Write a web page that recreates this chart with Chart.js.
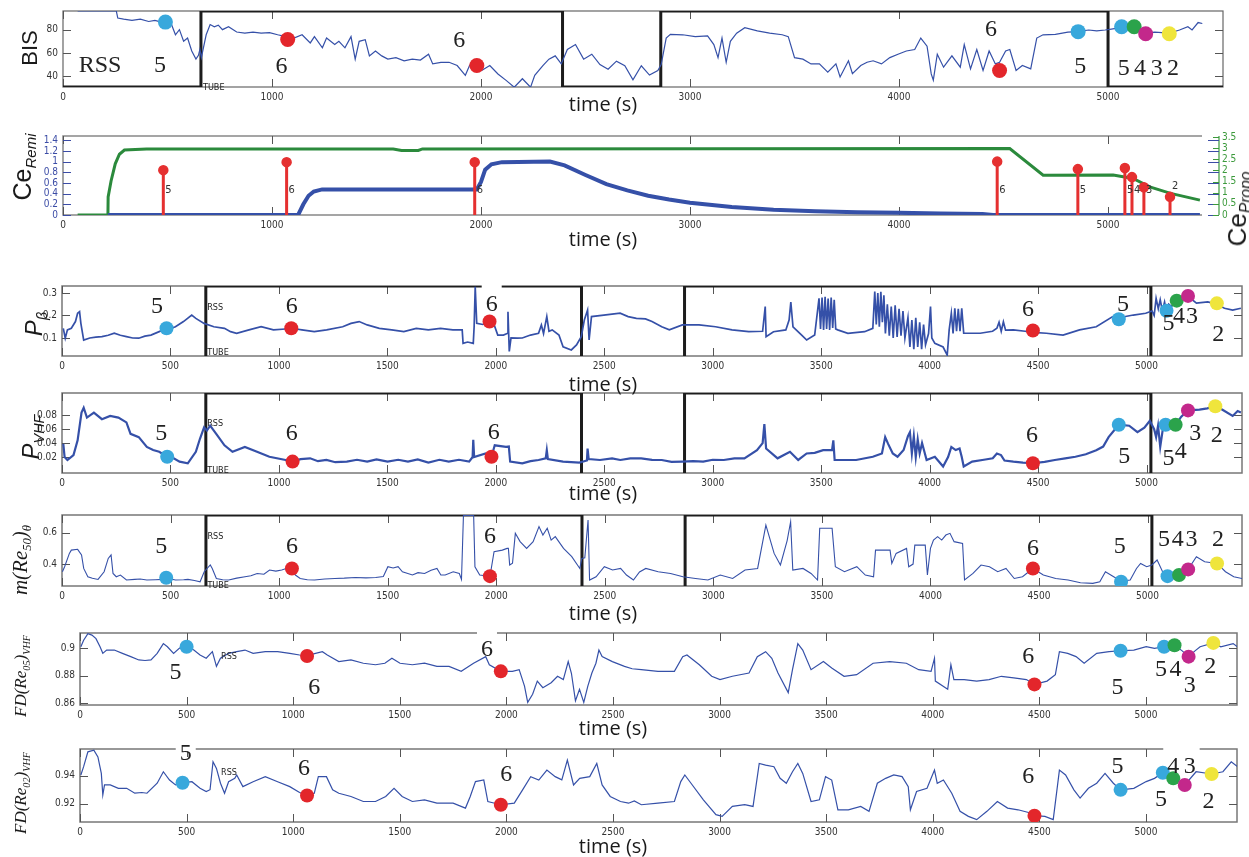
<!DOCTYPE html>
<html>
<head>
<meta charset="utf-8">
<script src="https://cdn.jsdelivr.net/npm/chart.js@4.4.0/dist/chart.umd.min.js"></script>
<style>
body { margin: 0; background: #fff; }
#fig { position: relative; width: 1249px; height: 857px; overflow: hidden; background: #fff; }
canvas { position: absolute; left: 0; }
.yl, .xl { position: absolute; white-space: nowrap; color: #1a1a1a; line-height: 1; }
.xl { font: 20px 'Open Sans', sans-serif; transform: translate(-50%, -50%); }
.yl { transform: translate(-50%, -50%) rotate(-90deg); }
.yl sub { font-size: 60%; vertical-align: -0.35em; }
.sans { font-family: 'Liberation Sans', Arial, sans-serif; }
.serif { font-family: 'Liberation Serif', 'Times New Roman', serif; font-style: italic; }
</style>
</head>
<body>
<div id="fig">
  <canvas id="cBis" width="1249" height="107" style="top:0px"></canvas>
  <canvas id="cCe" width="1249" height="117" style="top:118px"></canvas>
  <canvas id="cPb" width="1249" height="108" style="top:268px"></canvas>
  <canvas id="cPv" width="1249" height="116" style="top:377px"></canvas>
  <canvas id="cRe" width="1249" height="109" style="top:497px"></canvas>
  <canvas id="cF5" width="1249" height="110" style="top:615px"></canvas>
  <canvas id="cF2" width="1249" height="111" style="top:731px"></canvas>

  <div class="yl sans" style="left:30px;top:48px;font-size:22px">BIS</div>
  <div class="yl sans" style="left:24px;top:167px;font-size:25px">Ce<sub><i>Remi</i></sub></div>
  <div class="yl sans" style="left:1239px;top:209px;font-size:26px">Ce<sub><i>Propo</i></sub></div>
  <div class="yl sans" style="left:36px;top:324px;font-size:24px"><i>P</i><sub><i>β</i></sub></div>
  <div class="yl sans" style="left:33px;top:437px;font-size:24px"><i>P</i><sub><i>VHF</i></sub></div>
  <div class="yl serif" style="left:22px;top:560px;font-size:21px">m(Re<sub>50</sub>)<sub>θ</sub></div>
  <div class="yl serif" style="left:22px;top:676px;font-size:17px">FD(Re<sub>05</sub>)<sub>VHF</sub></div>
  <div class="yl serif" style="left:22px;top:793px;font-size:17px">FD(Re<sub>02</sub>)<sub>VHF</sub></div>

  <div class="xl" style="left:603px;top:103px">time (s)</div>
  <div class="xl" style="left:603px;top:238px">time (s)</div>
  <div class="xl" style="left:603px;top:383px">time (s)</div>
  <div class="xl" style="left:603px;top:492px">time (s)</div>
  <div class="xl" style="left:603px;top:612px">time (s)</div>
  <div class="xl" style="left:613px;top:727px">time (s)</div>
  <div class="xl" style="left:613px;top:845px">time (s)</div>
</div>

<script>
// ---- data (time in s, value) ----
const bisData = [[70,96],[255,96],[262,90],[290,89],[330,88],[370,89],[410,87],[440,88],[470,86.5],[500,86],
  [520,84],[538,75.6],[557,80],[577,70],[596,72.8],[616,61.7],[636,54.7],[648,58],[655,63],[662,56],
  [685,75.6],[704,84.4],[724,82.5],[743,83.9],[763,80],[792,82.5],[831,78],[870,77],[909,77.8],[948,77],
  [988,77.5],[1027,75.6],[1066,74],[1105,72.8],[1144,75.6],[1183,68.6],[1203,74],[1241,64.4],[1261,72.8],[1300,67.2],
  [1320,70],[1349,64.4],[1378,74],[1398,54.7],[1417,70],[1446,71.4],[1466,57.5],[1495,61.7],[1525,57.5],[1554,54.7],
  [1593,56],[1632,53.3],[1671,54.7],[1710,53.9],[1749,58.9],[1769,50.6],[1808,52],[1847,52],[1886,49.2],[1925,40.8],
  [1945,49.2],[1964,53.3],[2003,45],[2042,49.2],[2081,42],[2120,36.5],[2159,30.6],[2198,37.9],[2237,30.6],[2257,40.8],
  [2296,49.2],[2325,54.7],[2355,57.5],[2384,50.6],[2413,63],[2452,67.2],[2491,54.7],[2530,58.9],[2569,50],[2608,46],
  [2648,53],[2688,49],[2727,37],[2767,49],[2806,41],[2846,45],[2862,50],[2886,72.8],[2906,76],[2965,75.6],
  [3025,74],[3084,74.7],[3114,67.2],[3134,56],[3153,72.8],[3173,52],[3193,70],[3223,77],[3262,81.7],[3322,78.9],
  [3381,77],[3441,75.6],[3470,74],[3500,56],[3540,54.7],[3579,50.6],[3619,50.6],[3659,43.6],[3698,50.6],[3718,39.4],
  [3758,53.3],[3777,42.2],[3817,49.2],[3847,52],[3876,53.3],[3916,50.6],[3956,56],[3995,58.9],[4035,61.7],[4075,63],
  [4104,72.8],[4134,65.8],[4154,42],[4164,36.7],[4183,58.9],[4213,47.8],[4253,57.5],[4293,47.8],[4312,67.2],[4342,46.4],
  [4372,63],[4402,45],[4431,61.7],[4461,50.6],[4481,52],[4510,61.7],[4530,63],[4560,45],[4590,49.2],[4630,46.4],
  [4659,72.8],[4689,75.6],[4748,76],[4808,77.8],[4857,78.3],[4907,79.7],[4946,78.9],[4986,79.7],[5016,80.5],[5065,82],
  [5125,81],[5180,77],[5223,77.8],[5293,77],[5342,79.7],[5382,82.5],[5402,79.7],[5431,86.1],[5451,85.3]];

// effect-site concentrations
const propoData = [[70,0],[215,0],[216,0.81],[230,1.53],[250,2.3],[270,2.73],[294,2.92],[400,2.97],[1580,2.97],[1620,2.9],
  [1700,2.9],[1720,2.97],[4530,2.99],[4690,1.79],[5025,1.8],[5120,1.64],[5200,1.26],[5300,0.97],[5440,0.67]];
const remiData = [[215,0],[1125,0],[1150,0.2],[1175,0.36],[1200,0.44],[1240,0.48],[1980,0.48],[2000,0.62],[2020,0.85],[2050,0.95],
  [2100,0.99],[2330,1.0],[2400,0.93],[2500,0.75],[2600,0.58],[2700,0.46],[2800,0.36],[2900,0.29],[3000,0.23],[3200,0.15],
  [3400,0.1],[3600,0.07],[3800,0.05],[4000,0.04],[4200,0.03],[4400,0.02],[4450,0],[5440,0]];
const stemT = [480, 1070, 1970, 4470, 4856, 5081, 5115, 5172, 5297];
const stemH = [0.84, 0.99, 0.99, 1.0, 0.86, 0.88, 0.71, 0.52, 0.34];
const stemLab = ['5', '6', '6', '6', '5', '5', '4', '3', '2'];
const stemLabV = [0.47, 0.47, 0.47, 0.47, 0.47, 0.47, 0.47, 0.47, 0.55];

const pbData = [[6,.143],[15,.099],[25,.136],[43,.143],[62,.173],[72,.21],[81,.217],[87,.165],[100,.091],[128,.1],
  [156,.104],[184,.106],[213,.112],[241,.121],[269,.112],[297,.106],[326,.1],[354,.099],[382,.108],[410,.113],
  [440,.125],[467,.136],[495,.14],[523,.15],[560,.173],[598,.202],[617,.187],[655,.165],[700,.15],[749,.143],
  [777,.128],[805,.121],[862,.136],[918,.15],[975,.136],[1030,.14],[1080,.14],[1106,.136],[1163,.128],[1220,.136],
  [1294,.15],[1332,.165],[1370,.173],[1407,.158],[1463,.143],[1520,.136],[1576,.128],[1633,.143],[1689,.136],[1745,.143],
  [1802,.136],[1845,.136],[1849,.076],[1870,.082],[1896,.076],[1900,.15],[1905,.328],[1912,.165],[1940,.16],[1971,.173],
  [1990,.165],[2009,.113],[2035,.113],[2052,.12],[2056,.217],[2062,.04],[2070,.1],[2100,.099],[2122,.1],[2160,.113],
  [2197,.121],[2210,.158],[2220,.12],[2235,.195],[2245,.13],[2260,.136],[2291,.113],[2310,.061],[2348,.047],[2372,.069],
  [2394,.106],[2408,.18],[2423,.224],[2430,.091],[2441,.195],[2498,.202],[2573,.21],[2610,.195],[2648,.187],[2690,.185],
  [2720,.173],[2765,.15],[2800,.136],[2860,.158],[2937,.158],[3013,.15],[3089,.136],[3166,.128],[3230,.13],[3242,.24],
  [3246,.106],[3280,.128],[3337,.136],[3352,.18],[3360,.26],[3370,.15],[3410,.113],[3433,.091],[3470,.113],[3490,.276],
  [3497,.14],[3504,.28],[3511,.136],[3518,.283],[3525,.14],[3532,.275],[3539,.136],[3546,.28],[3553,.145],[3560,.27],
  [3567,.14],[3576,.136],[3623,.121],[3700,.128],[3738,.143],[3747,.306],[3754,.16],[3761,.3],[3768,.15],[3775,.305],
  [3782,.17],[3789,.29],[3796,.12],[3805,.25],[3814,.11],[3823,.24],[3832,.1],[3841,.245],[3850,.105],[3859,.23],
  [3868,.11],[3877,.22],[3886,.1],[3900,.19],[3909,.06],[3918,.18],[3927,.05],[3936,.19],[3945,.06],[3954,.17],
  [3963,.05],[3972,.16],[3981,.07],[3995,.12],[4004,.24],[4010,.1],[4024,.076],[4062,.06],[4081,.024],[4090,.136],
  [4100,.21],[4108,.12],[4116,.232],[4124,.13],[4132,.23],[4140,.13],[4148,.232],[4157,.121],[4233,.121],[4290,.13],
  [4310,.143],[4320,.17],[4330,.13],[4340,.172],[4350,.135],[4386,.136],[4440,.13],[4476,.125],[4538,.121],[4615,.113],
  [4691,.136],[4768,.15],[4844,.195],[4872,.19],[4939,.202],[4996,.21],[5025,.22],[5035,.2],[5044,.276],[5054,.23],
  [5063,.27],[5073,.22],[5083,.26],[5092,.215],[5102,.25],[5115,.24],[5139,.26],[5191,.285],[5230,.255],[5282,.26],
  [5324,.25],[5359,.232],[5397,.224],[5435,.232]];

const pvData = [[6,.039],[12,.02],[25,.0157],[53,.0228],[72,.0439],[90,.0838],[100,.0908],[115,.0767],[147,.0838],[184,.0744],
  [222,.079],[260,.0767],[297,.0697],[316,.0533],[354,.0486],[391,.0345],[420,.03],[448,.0275],[485,.0204],[515,.018],
  [542,.0134],[580,.011],[617,.0275],[636,.0462],[655,.0626],[668,.058],[683,.065],[711,.0533],[749,.0368],[786,.0275],
  [843,.0345],[899,.0275],[956,.0204],[1031,.0157],[1063,.0134],[1100,.017],[1144,.0181],[1180,.014],[1219,.0157],[1260,.0125],
  [1313,.0134],[1360,.016],[1407,.0134],[1450,.0165],[1501,.0134],[1550,.016],[1595,.0134],[1640,.0165],[1689,.012],[1740,.016],
  [1783,.0134],[1830,.016],[1877,.0134],[1893,.02],[1896,.0448],[1900,.02],[1953,.025],[1980,.0204],[1995,.0368],[2047,.0345],
  [2060,.035],[2066,.0134],[2122,.011],[2160,.014],[2197,.0157],[2230,.018],[2235,.0298],[2240,.017],[2310,.0134],[2385,.012],
  [2420,.015],[2423,.032],[2428,.017],[2480,.0157],[2536,.018],[2574,.0157],[2620,.018],[2670,.0181],[2720,.016],[2765,.0157],
  [2810,.013],[2860,.0134],[2910,.014],[2956,.0134],[3000,.016],[3051,.0157],[3100,.018],[3146,.0181],[3204,.0298],[3230,.04],
  [3238,.0673],[3246,.0322],[3299,.0181],[3356,.0275],[3394,.0157],[3433,.0251],[3470,.026],[3509,.0298],[3550,.03],[3556,.0439],
  [3562,.0157],[3661,.0157],[3738,.0204],[3780,.025],[3795,.0486],[3808,.0392],[3830,.025],[3852,.0204],[3880,.03],[3900,.05],
  [3909,.0556],[3918,.025],[3927,.05],[3936,.02],[3945,.045],[3954,.025],[3965,.04],[3986,.0157],[4024,.0204],[4062,.0064],
  [4085,.02],[4100,.0345],[4120,.03],[4138,.0322],[4148,.02],[4157,.0064],[4196,.0134],[4250,.016],[4291,.0181],[4310,.025],
  [4329,.0228],[4345,.015],[4386,.0134],[4430,.012],[4476,.011],[4530,.013],[4577,.0157],[4625,.018],[4672,.0204],[4720,.024],
  [4768,.0298],[4800,.035],[4825,.0486],[4872,.0664],[4920,.065],[4958,.0556],[4990,.062],[5015,.072],[5035,.06],[5044,.0486],
  [5053,.065],[5063,.0345],[5075,.06],[5088,.0664],[5110,.065],[5134,.0664],[5160,.078],[5191,.087],[5244,.088],[5280,.09],
  [5317,.093],[5350,.088],[5397,.079],[5420,.086],[5435,.084]];

const reData = [[2,.351],[12,.383],[34,.468],[43,.489],[72,.494],[90,.458],[100,.372],[119,.319],[140,.31],[166,.302],
  [194,.351],[213,.436],[226,.458],[235,.34],[250,.319],[269,.33],[297,.298],[335,.302],[360,.305],[391,.298],
  [430,.3],[467,.302],[480,.31],[523,.298],[560,.3],[580,.302],[610,.295],[636,.287],[655,.351],[683,.394],
  [692,.372],[711,.308],[740,.3],[768,.298],[805,.31],[843,.319],[870,.325],[899,.34],[930,.335],[956,.362],
  [985,.355],[1012,.362],[1040,.375],[1059,.372],[1075,.33],[1097,.308],[1130,.3],[1163,.298],[1210,.305],[1257,.308],
  [1300,.31],[1351,.314],[1400,.312],[1445,.314],[1480,.32],[1501,.383],[1525,.375],[1548,.383],[1568,.351],[1614,.33],
  [1640,.345],[1670,.34],[1700,.36],[1727,.372],[1745,.33],[1765,.33],[1802,.351],[1830,.34],[1840,.302],[1849,.71],
  [1896,.71],[1902,.383],[1924,.33],[1950,.325],[1971,.32],[1990,.479],[2028,.489],[2050,.5],[2056,.5],[2062,.394],
  [2075,.405],[2088,.596],[2110,.543],[2140,.5],[2170,.543],[2197,.639],[2215,.585],[2235,.628],[2253,.553],[2272,.575],
  [2310,.5],[2348,.447],[2385,.372],[2394,.436],[2408,.44],[2423,.681],[2430,.298],[2460,.319],[2498,.383],[2536,.362],
  [2573,.372],[2600,.33],[2632,.298],[2660,.35],[2689,.372],[2746,.351],[2803,.34],[2860,.319],[2918,.308],[2975,.298],
  [3032,.33],[3089,.308],[3146,.362],[3204,.372],[3242,.649],[3280,.468],[3309,.394],[3340,.55],[3356,.67],[3366,.362],
  [3413,.372],[3450,.34],[3480,.298],[3490,.628],[3547,.628],[3562,.383],[3604,.351],[3661,.383],[3700,.33],[3738,.319],
  [3747,.489],[3814,.489],[3822,.404],[3842,.468],[3890,.5],[3900,.383],[3920,.4],[3928,.521],[3976,.521],[3986,.33],
  [4000,.5],[4014,.553],[4033,.575],[4052,.553],[4071,.585],[4090,.596],[4109,.543],[4148,.532],[4157,.298],[4196,.34],
  [4233,.394],[4272,.383],[4310,.351],[4348,.372],[4386,.308],[4424,.319],[4472,.372],[4520,.33],[4577,.308],[4634,.298],
  [4691,.281],[4748,.277],[4780,.287],[4806,.351],[4844,.319],[4878,.29],[4920,.298],[4949,.372],[4968,.404],[4996,.383],
  [5020,.394],[5044,.426],[5073,.34],[5092,.32],[5145,.33],[5187,.366],[5225,.447],[5263,.415],[5320,.404],[5359,.351],
  [5397,.319],[5435,.308]];

const fd05Data = [[4,.901],[17,.9057],[37,.9105],[56,.9095],[75,.9069],[94,.901],[107,.8962],[125,.8986],[161,.8986],[199,.8962],
  [238,.8938],[276,.8914],[305,.891],[333,.8914],[362,.8962],[391,.9033],[410,.901],[439,.8962],[467,.9],[500,.901],
  [534,.8986],[563,.895],[592,.8926],[621,.8974],[640,.8867],[659,.8926],[697,.8962],[735,.8974],[774,.8986],[812,.8962],
  [869,.8974],[927,.8974],[984,.8962],[1030,.895],[1065,.8943],[1100,.896],[1137,.8974],[1160,.895],[1214,.8902],[1271,.8914],
  [1329,.889],[1386,.8879],[1430,.889],[1463,.8926],[1501,.889],[1559,.8879],[1616,.889],[1674,.8867],[1731,.8867],[1788,.8831],
  [1846,.889],[1903,.8938],[1920,.8879],[1974,.8831],[2028,.8831],[2060,.8843],[2085,.8724],[2100,.8605],[2123,.8664],[2145,.876],
  [2171,.8712],[2210,.8748],[2240,.8795],[2267,.8771],[2290,.8902],[2305,.8817],[2324,.8617],[2343,.87],[2363,.8605],[2382,.8724],
  [2401,.8819],[2420,.889],[2434,.8986],[2449,.8938],[2497,.8902],[2554,.8867],[2590,.885],[2633,.8843],[2711,.8831],[2788,.8831],
  [2827,.8938],[2847,.895],[2905,.8879],[2963,.8795],[3002,.8771],[3060,.8795],[3138,.8819],[3177,.8938],[3216,.8974],[3245,.8926],
  [3274,.8819],[3322,.8676],[3342,.8843],[3367,.9033],[3390,.8986],[3429,.8843],[3487,.8902],[3526,.8855],[3584,.8795],[3643,.8807],
  [3720,.889],[3798,.8902],[3876,.889],[3934,.8843],[3992,.8831],[4008,.8926],[4012,.876],[4070,.87],[4085,.8879],[4099,.8771],
  [4147,.8771],[4206,.876],[4264,.8771],[4322,.8795],[4380,.8783],[4439,.8771],[4477,.8736],[4536,.876],[4575,.8807],[4594,.8974],
  [4633,.8962],[4672,.8938],[4710,.889],[4769,.8962],[4827,.8974],[4881,.8981],[4943,.8986],[5001,.901],[5040,.8998],[5085,.901],
  [5134,.9021],[5170,.898],[5200,.8938],[5230,.898],[5254,.901],[5316,.9038],[5351,.901],[5409,.9033],[5429,.901]];

const fd02Data = [[4,.9405],[17,.9464],[37,.957],[65,.9581],[84,.9534],[100,.9416],[107,.9263],[115,.9334],[142,.9334],[180,.931],
  [219,.931],[257,.9275],[290,.928],[314,.9275],[362,.9346],[391,.9428],[420,.9369],[448,.9334],[481,.935],[525,.9357],
  [563,.931],[592,.9287],[610,.93],[624,.9499],[640,.9452],[659,.9346],[678,.9275],[697,.9357],[726,.9381],[735,.9405],
  [764,.9322],[812,.9357],[869,.9393],[927,.9357],[984,.9322],[1030,.928],[1065,.9259],[1099,.9275],[1118,.9393],[1156,.9393],
  [1185,.9299],[1214,.9275],[1271,.9252],[1329,.9216],[1386,.9216],[1434,.9252],[1473,.931],[1511,.9252],[1559,.9216],[1616,.9228],
  [1674,.9204],[1750,.9204],[1808,.9169],[1830,.925],[1855,.9358],[1894,.9369],[1913,.9216],[1974,.9193],[2037,.9204],[2076,.9299],
  [2114,.9393],[2152,.9369],[2190,.944],[2229,.9393],[2260,.937],[2286,.9511],[2315,.9334],[2344,.9381],[2391,.9393],[2424,.9487],
  [2449,.9334],[2487,.9252],[2535,.9216],[2573,.9204],[2600,.922],[2633,.9193],[2711,.9204],[2788,.9216],[2818,.9358],[2837,.9405],
  [2866,.9346],[2924,.9228],[2983,.9122],[3012,.911],[3060,.9181],[3118,.9193],[3157,.9181],[3186,.9487],[3216,.9475],[3255,.9464],
  [3284,.9381],[3313,.9346],[3342,.9428],[3367,.9487],[3390,.9416],[3429,.9216],[3468,.9228],[3497,.9393],[3526,.9369],[3555,.9157],
  [3604,.9157],[3662,.9181],[3701,.9146],[3740,.9346],[3779,.9381],[3817,.9405],[3856,.9393],[3885,.9322],[3895,.9157],[3924,.9287],
  [3973,.931],[4008,.944],[4021,.9346],[4050,.9369],[4089,.9275],[4128,.9146],[4167,.911],[4206,.9087],[4254,.9146],[4303,.9216],
  [4351,.9169],[4400,.9157],[4458,.9134],[4477,.9115],[4526,.911],[4565,.9087],[4594,.944],[4623,.9405],[4662,.9299],[4691,.924],
  [4730,.931],[4769,.9346],[4808,.9416],[4847,.9346],[4881,.9299],[4943,.931],[5001,.9358],[5040,.9381],[5079,.9421],[5128,.9381],
  [5182,.9334],[5235,.9428],[5308,.9412],[5361,.9428],[5400,.9499],[5429,.9464]];

// RSS / TUBE phase switches
const bisPhaseT = [0, 660, 2390, 2860, 5000, 5560];
const eegPhaseT = [0, 663, 2395, 2870, 5020, 5450];
const phaseHi = [0, 1, 0, 1, 0];

// tick values
const xTicks1000 = [0, 1000, 2000, 3000, 4000, 5000];
const xTicks500 = [0, 500, 1000, 1500, 2000, 2500, 3000, 3500, 4000, 4500, 5000];
const bisYTicks = [40, 60, 80];
const remiYTicks = [0, 0.2, 0.4, 0.6, 0.8, 1, 1.2, 1.4];
const propoYTicks = [0, 0.5, 1, 1.5, 2, 2.5, 3, 3.5];
const pbYTicks = [0.1, 0.2, 0.3];
const pvYTicks = [0.02, 0.04, 0.06, 0.08];
const reYTicks = [0.4, 0.6];
const fd05YTicks = [0.86, 0.88, 0.9];
const fd02YTicks = [0.92, 0.94];

// event markers [time, value, colour key]
const bisDots = [[490,86.5,'c'],[1075,71.5,'r'],[1980,49.2,'r'],[4481,45,'r'],[4857,78.3,'c'],[5065,82.5,'c'],[5125,82.5,'g'],[5180,76.5,'m'],[5293,76.5,'y']];
const pbDots = [[482,.143,'c'],[1057,.143,'r'],[1971,.173,'r'],[4476,.133,'r'],[4872,.183,'c'],[5092,.221,'c'],[5139,.266,'g'],[5191,.287,'m'],[5324,.254,'y']];
const pvDots = [[485,.0204,'c'],[1063,.0134,'r'],[1980,.0204,'r'],[4476,.011,'r'],[4872,.0664,'c'],[5088,.0664,'c'],[5134,.0664,'g'],[5191,.087,'m'],[5317,.093,'y']];
const reDots = [[480,.313,'c'],[1059,.372,'r'],[1971,.323,'r'],[4472,.372,'r'],[4878,.287,'c'],[5092,.323,'c'],[5145,.33,'g'],[5187,.366,'m'],[5320,.404,'y']];
const fd05Dots = [[500,.901,'c'],[1065,.8943,'r'],[1974,.8831,'r'],[4477,.8736,'r'],[4881,.8981,'c'],[5085,.901,'c'],[5134,.9021,'g'],[5200,.8938,'m'],[5316,.9038,'y']];
const fd02Dots = [[481,.935,'c'],[1065,.9259,'r'],[1974,.9193,'r'],[4477,.9115,'r'],[4881,.9299,'c'],[5079,.9421,'c'],[5128,.9381,'g'],[5182,.9334,'m'],[5308,.9412,'y']];

// score labels [time, value, text, white box above]
const bisLabels = [[177,49.2,'RSS'],[464,49.2,'5'],[1046,47.8,'6'],[1896,70.6,'6'],[4440,79.7,'6'],[4867,47.8,'5'],[5075,46.4,'5'],[5153,46.4,'4'],[5233,46.4,'3'],[5311,46.4,'2']];
const pbLabels = [[438,.239,'5'],[1059,.239,'6'],[1981,.247,'6',1],[4453,.224,'6'],[4891,.247,'5'],[5101,.165,'5'],[5149,.195,'4'],[5210,.195,'3'],[5330,.113,'2']];
const pvLabels = [[457,.0533,'5'],[1059,.0533,'6'],[1990,.0556,'6'],[4472,.051,'6'],[4897,.0204,'5'],[5101,.018,'5'],[5158,.027,'4'],[5225,.053,'3'],[5324,.051,'2']];
const reLabels = [[457,.511,'5'],[1059,.511,'6'],[1971,.575,'6'],[4472,.5,'6'],[4872,.511,'5'],[5076,.553,'5'],[5139,.553,'4'],[5202,.553,'3'],[5324,.553,'2']];
const fd05Labels = [[448,.8819,'5'],[1099,.8712,'6'],[1909,.8986,'6',1],[4448,.8938,'6'],[4866,.8712,'5'],[5070,.8843,'5'],[5138,.8843,'4'],[5205,.8724,'3'],[5302,.8867,'2']];
const fd02Labels = [[496,.9558,'5',1],[1051,.9452,'6'],[1999,.9405,'6'],[4448,.9393,'6'],[4866,.9464,'5'],[5128,.9464,'4',1],[5205,.9464,'3',1],[5070,.9228,'5'],[5293,.9216,'2']];

// small RSS / TUBE tags
const bisTags = [[665,30.2,'TUBE']];
const pbTags = [[665,.233,'RSS'],[665,.036,'TUBE']];
const pvTags = [[665,.0677,'RSS'],[665,.0005,'TUBE']];
const reTags = [[665,.573,'RSS'],[665,.262,'TUBE']];
const fd05Tags = [[657,.8936,'RSS']];
const fd02Tags = [[657,.942,'RSS']];

// ---- helpers ----
const LINE = '#3550a8';
const DOT = { c: '#38a8dc', r: '#e3262b', g: '#2ba34b', m: '#c3288b', y: '#efe53c' };
const TICKFAMILY = "'Liberation Sans Narrow','DejaVu Sans Condensed','Liberation Sans',sans-serif";
const TICKFONT = { family: TICKFAMILY, size: 10 };
const BIGFONT = "24px 'Liberation Serif','Times New Roman',serif";
const TAGFONT = "9px 'Liberation Sans Narrow','DejaVu Sans Condensed',sans-serif";
const REMI_C = '#3b4ca6', PROPO_C = '#3c9a3c';

const xy = d => d.map(p => ({ x: p[0], y: p[1] }));

function phaseLine(T, lo, hi) {
  const out = [];
  phaseHi.forEach((h, i) => {
    const y = h ? hi : lo;
    out.push({ x: T[i], y }, { x: T[i + 1], y });
  });
  return out;
}

function xAxis(max, ticks, h) {
  return {
    type: 'linear', min: 0, max,
    grid: { display: false, drawTicks: false }, border: { display: false },
    ticks: { autoSkip: false, maxRotation: 0, color: '#333', font: TICKFONT, padding: 4, callback: v => String(v) },
    afterBuildTicks(s) { s.ticks = ticks.map(v => ({ value: v })); },
    afterFit(s) { s.height = h; }
  };
}
function yAxis(min, max, ticks, w, color, pos, showLabels) {
  return {
    type: 'linear', position: pos || 'left', min, max,
    grid: { display: false, drawTicks: false }, border: { display: false },
    ticks: { display: showLabels !== false, autoSkip: false, color: color || '#333', font: TICKFONT, padding: 5, callback: v => String(+v.toFixed(4)) },
    afterBuildTicks(s) { s.ticks = ticks.map(v => ({ value: v })); },
    afterFit(s) { s.width = w; }
  };
}

function makeDeco(o) {
  return {
    id: 'deco',
    beforeDatasetsDraw(chart) {
      const { ctx, chartArea: a, scales } = chart;
      ctx.save();
      ctx.lineWidth = o.frameW || 1.2;
      ctx.strokeStyle = o.frame || '#777';
      if (o.noRight) {
        ctx.beginPath();
        ctx.moveTo(a.right, a.top); ctx.lineTo(a.left, a.top); ctx.lineTo(a.left, a.bottom); ctx.lineTo(a.right, a.bottom);
        ctx.stroke();
      } else {
        ctx.strokeRect(a.left, a.top, a.right - a.left, a.bottom - a.top);
      }
      if (o.axisLine) {
        ctx.strokeStyle = o.axisLine.color;
        ctx.lineWidth = 1.2;
        ctx.beginPath();
        ctx.moveTo(a.right + o.axisLine.dx, a.top); ctx.lineTo(a.right + o.axisLine.dx, a.bottom);
        ctx.stroke();
      }
      ctx.lineWidth = 1;
      ctx.strokeStyle = '#555';
      ctx.beginPath();
      for (const t of scales.x.ticks) {
        const px = Math.round(scales.x.getPixelForValue(t.value)) + 0.5;
        ctx.moveTo(px, a.top); ctx.lineTo(px, a.top + 8);
        ctx.moveTo(px, a.bottom); ctx.lineTo(px, a.bottom - 8);
      }
      ctx.stroke();
      for (const yt of o.yTicks) {
        const s = scales[yt.id];
        const rx = a.right + (yt.rx || 0), rl = yt.rl || 8;
        ctx.strokeStyle = yt.color;
        ctx.beginPath();
        for (const t of s.ticks) {
          const py = Math.round(s.getPixelForValue(t.value)) + 0.5;
          if (yt.left) { ctx.moveTo(a.left, py); ctx.lineTo(a.left + 8, py); }
          if (yt.right) { ctx.moveTo(rx, py); ctx.lineTo(rx - rl, py); }
        }
        ctx.stroke();
        if (yt.labelDx) {
          ctx.fillStyle = yt.color;
          ctx.font = '10px ' + TICKFAMILY;
          ctx.textAlign = 'left';
          ctx.textBaseline = 'middle';
          for (const t of s.ticks) ctx.fillText(String(t.value), a.right + yt.labelDx, s.getPixelForValue(t.value));
        }
      }
      ctx.restore();
    },
    afterDatasetsDraw(chart) {
      const { ctx, scales } = chart;
      ctx.save();
      ctx.textBaseline = 'middle';
      for (const g of o.texts) {
        ctx.font = g.font;
        ctx.textAlign = g.align || 'center';
        for (const [t, v, s, box] of g.items) {
          const x = scales.x.getPixelForValue(t) + (g.dx || 0);
          const y = scales[g.axis || 'y'].getPixelForValue(v);
          if (box) {
            const w = ctx.measureText(s).width;
            ctx.fillStyle = '#fff';
            ctx.fillRect(x - w / 2 - 4, y - 20, w + 8, 18);
          }
          ctx.fillStyle = g.color || '#222';
          ctx.fillText(s, x, y);
        }
      }
      ctx.restore();
    }
  };
}

function dotSet(d, r) {
  return {
    data: xy(d), showLine: false, pointRadius: r, pointHoverRadius: r,
    pointBackgroundColor: d.map(p => DOT[p[2]]), pointBorderWidth: 0, order: 0
  };
}
function sigSet(d, w) {
  return { data: xy(d), borderColor: LINE, borderWidth: w, pointRadius: 0, order: 2 };
}
function phaseSet(T, lo, hi) {
  return { data: phaseLine(T, lo, hi), borderColor: '#1c1c1c', borderWidth: 3, pointRadius: 0, order: 3 };
}

function build(id, p) {
  return new Chart(document.getElementById(id), {
    type: 'line',
    data: { datasets: p.datasets },
    options: {
      responsive: false, animation: false,
      layout: { padding: { top: p.pt, right: p.pr, left: 0, bottom: 0 } },
      plugins: { legend: { display: false }, tooltip: { enabled: false } },
      scales: p.scales
    },
    plugins: [makeDeco(p.deco)]
  });
}

const plainY = [{ id: 'y', left: true, right: true, color: '#555' }];

// ---- BIS ----
build('cBis', {
  pt: 10, pr: 26,
  scales: { x: xAxis(5550, xTicks1000, 20), y: yAxis(30.8, 96, bisYTicks, 63) },
  datasets: [dotSet(bisDots, 7.5), sigSet(bisData, 1.2), phaseSet(bisPhaseT, 30.8, 96)],
  deco: { frame: '#666', yTicks: plainY, texts: [
    { font: BIGFONT, items: bisLabels },
    { font: TAGFONT, align: 'left', dx: 1, items: bisTags }
  ] }
});

// ---- Ce remi / propo ----
const stemPts = [];
stemT.forEach((t, i) => { stemPts.push({ x: t, y: 0 }, { x: t, y: stemH[i] }, { x: t, y: null }); });
build('cCe', {
  pt: 18, pr: 0,
  scales: {
    x: xAxis(5450, xTicks1000, 20),
    y: yAxis(0, 1.48, remiYTicks, 63, REMI_C),
    y2: yAxis(0, 3.55, propoYTicks, 47, PROPO_C, 'right', false)
  },
  datasets: [
    { data: stemPts, borderColor: '#e53030', borderWidth: 3, spanGaps: false,
      pointRadius: c => (c.dataIndex % 3 === 1 ? 4.5 : 0), pointBorderWidth: 1.5,
      pointBorderColor: '#e53030', pointBackgroundColor: '#e53030', order: 0 },
    { data: xy(remiData), borderColor: '#3550a8', borderWidth: 4, pointRadius: 0, order: 1 },
    { data: xy(propoData), yAxisID: 'y2', borderColor: '#2b8a3c', borderWidth: 3, pointRadius: 0, order: 2 }
  ],
  deco: { frame: '#888', frameW: 1.5, noRight: true, axisLine: { dx: 17, color: PROPO_C },
    yTicks: [{ id: 'y', left: true, right: true, color: REMI_C, rx: 17, rl: 11 },
             { id: 'y2', right: true, color: PROPO_C, rx: 17, rl: 6, labelDx: 20 }],
    texts: [{ font: "11px 'Liberation Sans Narrow','DejaVu Sans Condensed',sans-serif", color: '#333', align: 'left', dx: 2,
      items: stemT.map((t, i) => [t, stemLabV[i], stemLab[i]]) }]
  }
});

// ---- EEG panels ----
function eeg(id, p) {
  build(id, {
    pt: p.pt, pr: p.pr,
    scales: { x: xAxis(p.xmax, xTicks500, 20), y: yAxis(p.ymin, p.ymax, p.ticks, p.yw) },
    datasets: [dotSet(p.dots, p.r || 7), sigSet(p.data, p.w)].concat(
      p.phase ? [phaseSet(eegPhaseT, p.ymin - (p.ymax - p.ymin), p.ymax)] : []),
    deco: { frame: '#777', frameW: 1.5, yTicks: plainY, texts: [
      { font: BIGFONT, items: p.labels },
      { font: TAGFONT, align: 'left', dx: 1, items: p.tags }
    ] }
  });
}
eeg('cPb', { pt: 18, pr: 6, xmax: 5440, ymin: 0.02, ymax: 0.331, ticks: pbYTicks, yw: 62, data: pbData, w: 1.7, dots: pbDots, labels: pbLabels, tags: pbTags, phase: true });
eeg('cPv', { pt: 16, pr: 6, xmax: 5440, ymin: -0.003, ymax: 0.112, ticks: pvYTicks, yw: 62, data: pvData, w: 2.2, dots: pvDots, labels: pvLabels, tags: pvTags, phase: true });
eeg('cRe', { pt: 18, pr: 7, xmax: 5435, ymin: 0.26, ymax: 0.713, ticks: reYTicks, yw: 62, data: reData, w: 1.1, dots: reDots, labels: reLabels, tags: reTags, phase: true });
eeg('cF5', { pt: 18, pr: 12, xmax: 5427, ymin: 0.8586, ymax: 0.911, ticks: fd05YTicks, yw: 80, data: fd05Data, w: 1.2, dots: fd05Dots, labels: fd05Labels, tags: fd05Tags });
eeg('cF2', { pt: 18, pr: 12, xmax: 5427, ymin: 0.907, ymax: 0.959, ticks: fd02YTicks, yw: 80, data: fd02Data, w: 1.2, dots: fd02Dots, labels: fd02Labels, tags: fd02Tags });
</script>
</body>
</html>
